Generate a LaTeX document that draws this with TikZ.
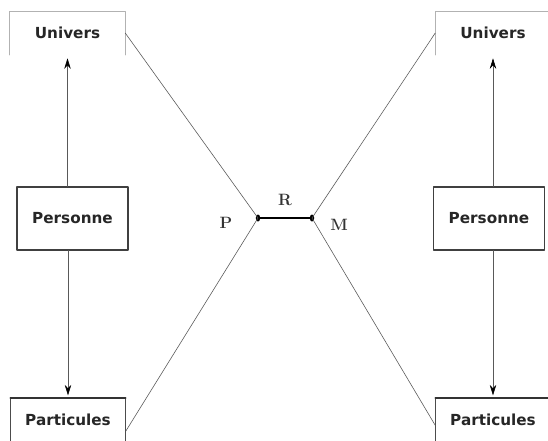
\documentclass[tikz,border=0pt]{standalone}
\usepackage{fontspec}
\newfontfamily\boxfont{DejaVu Sans}
\usetikzlibrary{arrows.meta}
\tikzset{
  boite/.style={rectangle, minimum width=3.45cm, minimum height=1.29cm, inner sep=0pt,
    font=\boxfont\bfseries\fontsize{13}{15}\selectfont, text=black!85},
  pers/.style={boite, draw=black!75, line width=0.9pt, minimum width=3.33cm, minimum height=1.89cm},
  trait/.style={black!65, line width=0.5pt},
  fleche/.style={trait, -{Stealth[length=9pt,width=5.5pt,black]}},
  lettre/.style={font=\fontsize{14}{16}\selectfont\bfseries, text=black!80},
}
\begin{document}
\begin{tikzpicture}[x=0.03cm, y=-0.03cm, line join=round, line cap=round]
\useasboundingbox (0,0) rectangle (548,441);
% boites de gauche
\node[boite] (univG) at (67.5,33) {Univers};
\node[pers] (persG) at (72.5,218.5) {Personne};
\node[boite, draw=black!70] (partG) at (68,419.5) {Particules};
% boites de droite
\node[boite] (univD) at (493,33) {Univers};
\node[pers] (persD) at (489,218.5) {Personne};
\node[boite, draw=black!70] (partD) at (493,419.5) {Particules};
\draw[gray!60, line width=1.2pt] (univG.south west) |- (univG.north east) -- (univG.south east);
\draw[gray!60, line width=1.2pt] (univD.south west) |- (univD.north east) -- (univD.south east);
\draw[black!80, line width=1.3pt] (partG.north west) -- (partG.north east);
\draw[black!80, line width=1.3pt] (partD.north west) -- (partD.north east);
% fleches
\draw[fleche] (persG.north -| univG.south) -- ([yshift=-3]univG.south);
\draw[fleche] (persG.south -| partG.north) -- ([yshift=2]partG.north);
\draw[fleche] (persD.north -| univD.south) -- ([yshift=-3]univD.south);
\draw[fleche] (persD.south -| partD.north) -- ([yshift=2]partD.north);
% P, R, M
\coordinate (P) at (258,218);
\coordinate (M) at (312,218);
\draw[line width=1.5pt] (P) -- (M);
\fill (P) ellipse (2.2 and 3.5);
\fill (M) ellipse (2.2 and 3.5);
\node[lettre] (lP) at (226,223) {P};
\node[lettre] (lM) at (339,225) {M};
\node[lettre] (lR) at (285,200) {R};
\draw[trait] (univG.east) -- (P) -- ([yshift=-10]partG.east);
\draw[trait] (univD.west) -- (M) -- ([yshift=-5]partD.west);
\end{tikzpicture}
\end{document}
